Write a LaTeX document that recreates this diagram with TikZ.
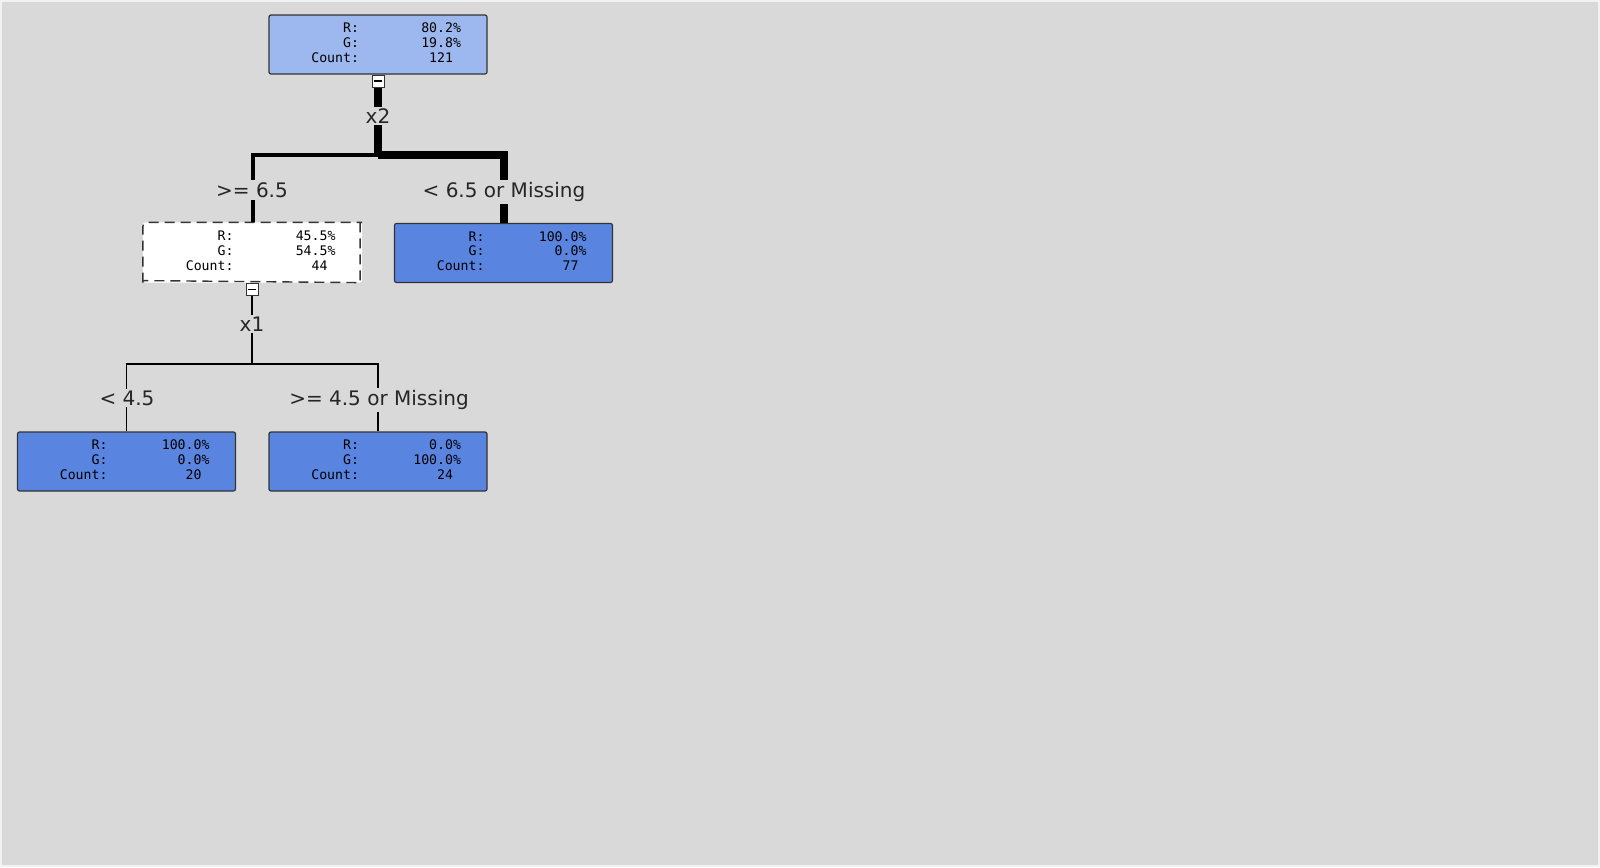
\documentclass[tikz,border=0pt]{standalone}
\usepackage{fontspec}
\setmainfont{DejaVu Sans}
\newfontfamily\monof{DejaVu Sans Mono}
\begin{document}
\begin{tikzpicture}[x=0.5pt,y=-0.5pt,
  box/.style={draw=black!80,line width=0.6pt,minimum width=109pt,minimum height=29.5pt,inner sep=0pt,rounded corners=1pt,font=\monof\fontsize{6.6}{7.4}\selectfont},
  lbl/.style={fill=gray!30!white,fill=bgc,inner sep=1pt,font=\fontsize{10}{12}\selectfont,text=black!85},
  tog/.style={draw=black!80,fill=white,line width=0.5pt,minimum size=6pt,inner sep=0pt}]
\definecolor{bgc}{HTML}{D9D9D9}
\definecolor{lb}{HTML}{9DB8EE}
\definecolor{db}{HTML}{5985E0}
\newcommand{\stats}[3]{\begin{tabular}{@{}r@{}r@{}}\makebox[32pt][r]{R:}&\makebox[51pt][r]{#1}\\\makebox[32pt][r]{G:}&\makebox[51pt][r]{#2}\\\makebox[32pt][r]{Count:}&\makebox[51pt][r]{#3\phantom{\%}}\end{tabular}\hspace{20pt}}
\fill[bgc] (0,0) rectangle (1600,867);
\draw[white!90!gray,line width=1pt] (1,1) rectangle (1599,866);
\node[box,fill=lb] (root) at (378,44.5) {\stats{80.2\%}{19.8\%}{121}};
\node[box,fill=white,draw=white] (mid) at (252.5,252.5) {\stats{45.5\%}{54.5\%}{44}};
\draw[dashed,dash pattern=on 5pt off 3pt,black!80,line width=0.7pt] ([xshift=-1pt]mid.north east) -- ([xshift=-1pt]mid.south east) -- ([yshift=1pt]mid.south west);
\draw[dashed,dash pattern=on 5pt off 3pt,black!80,line width=0.7pt,rounded corners=2pt] (mid.south west) -- (mid.north west) -- (mid.north east);
\node[box,fill=db] (right) at (503.5,253) {\stats{100.0\%}{0.0\%}{77}};
\node[box,fill=db] (ll) at (126.5,461.5) {\stats{100.0\%}{0.0\%}{20}};
\node[box,fill=db] (lr) at (378,461.5) {\stats{0.0\%}{100.0\%}{24}};
\node[tog] (t1) at (378,81) {}; \draw[line width=0.6pt] ([xshift=-1.8pt]t1.center) -- ([xshift=1.8pt]t1.center);
\node[tog] (t2) at (252,289.5) {}; \draw[line width=0.6pt] ([xshift=-1.8pt]t2.center) -- ([xshift=1.8pt]t2.center);
\coordinate (j1) at (378,155); \coordinate (j2) at (252,364);
% top edges
\draw[line width=4pt] (t1.south) -- (j1);
\draw[line width=4pt] (j1) -| (right.north);
\draw[line width=2pt] (j1) -| (mid.north);
\node[lbl] at (378,116) {x2};
\node[lbl] at (252,190) {>= 6.5};
\node[lbl] at (504,192) {< 6.5 or Missing};
% bottom edges
\draw[line width=0.8pt] (t2.south) -- (j2);
\draw[line width=0.8pt] (ll.north) |- (lr.north |- j2) -- (lr.north);
\node[lbl] at (252,324) {x1};
\node[lbl] at (127,398) {< 4.5};
\node[lbl] at (379,400) {>= 4.5 or Missing};
\end{tikzpicture}
\end{document}
